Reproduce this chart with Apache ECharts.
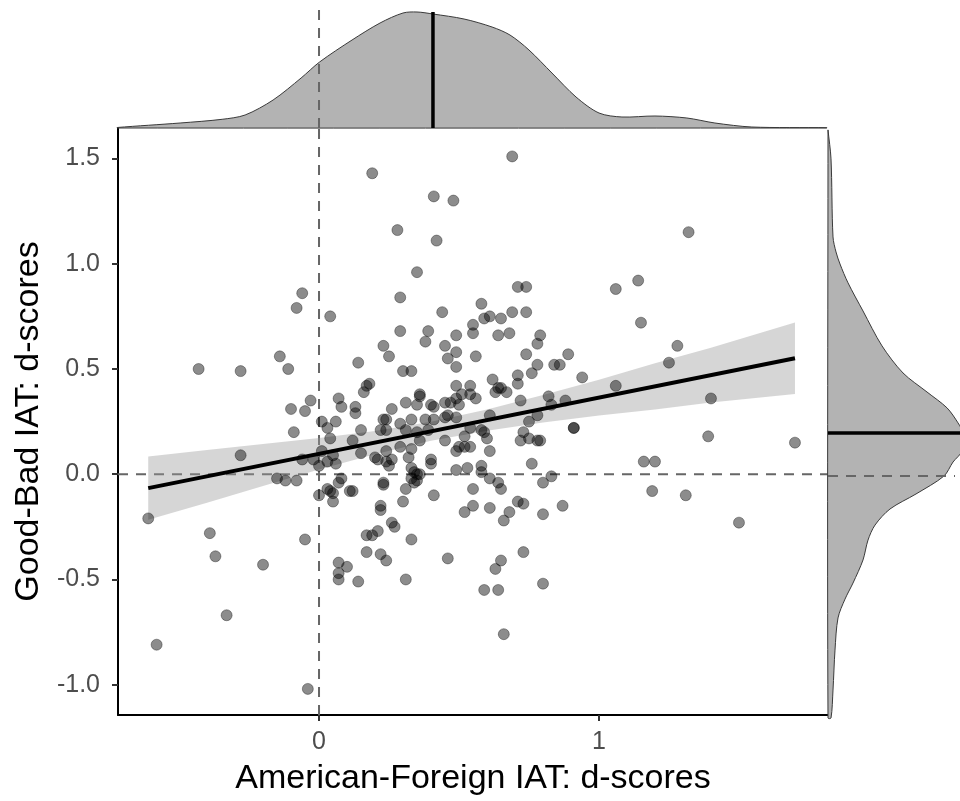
<!DOCTYPE html>
<html>
<head>
<meta charset="utf-8">
<script src="https://cdn.jsdelivr.net/npm/echarts@6/dist/echarts.min.js"></script>
<style>
html,body{margin:0;padding:0;background:#fff;}
#chart{width:960px;height:801px;}
</style>
</head>
<body>
<div id="chart"></div>
<script>
// ---------- data ----------
const xTickValues = [0, 1];
const yTickValues = [-1, -0.5, 0, 0.5, 1, 1.5];
const xTitle = 'American-Foreign IAT: d-scores';
const yTitle = 'Good-Bad IAT: d-scores';

// scatter points: American-Foreign IAT (x) vs Good-Bad IAT (y)
const xScores = [
 -0.61,-0.58,-0.43,-0.39,-0.37,-0.33,-0.28,-0.28,-0.20,-0.14,-0.11,-0.10,-0.09,-0.06,-0.08,-0.06,0.04,-0.04,-0.05,-0.15,-0.12,-0.08,-0.05,-0.03,
 0.01,0.06,0.07,0.08,0.13,0.13,0.14,0.03,0.04,0.15,0.12,0.01,0.05,-0.02,0.00,0.03,0.06,0.15,0.08,0.07,0.03,0.04,0.05,0.00,0.11,0.12,0.05,
 0.19,0.69,0.41,0.48,0.28,0.42,0.35,0.71,0.74,0.29,0.58,0.44,0.59,0.61,0.65,0.69,0.74,0.55,0.29,0.39,0.49,0.55,0.64,0.68,0.79,0.38,0.78,
 0.23,0.45,0.25,0.49,0.46,0.56,0.74,0.89,0.49,0.78,0.84,0.86,0.30,0.33,0.76,0.94,0.62,0.71,0.71,0.18,0.17,0.16,0.49,0.54,0.64,0.65,0.63,
 0.67,0.36,0.36,0.51,0.54,0.49,0.56,0.82,0.88,0.72,0.83,0.31,0.35,0.40,0.41,0.47,0.50,0.26,0.61,0.78,0.23,0.24,0.29,0.33,0.38,0.41,0.45,
 0.46,0.49,0.75,0.45,
 0.22,0.24,0.31,0.35,0.39,0.45,0.36,0.24,0.29,0.33,0.32,0.20,0.21,0.24,0.26,0.25,0.40,0.40,0.33,0.34,0.35,0.36,0.33,0.23,0.23,0.34,0.35,
 0.31,0.41,0.30,0.22,0.54,0.58,0.59,0.52,0.60,0.73,0.91,0.91,0.75,0.72,0.78,0.79,0.50,0.49,0.52,0.54,0.61,0.49,0.53,0.58,0.58,0.76,0.61,
 0.64,0.80,0.83,0.55,0.65,0.71,0.73,0.55,0.61,0.87,
 0.22,0.26,0.27,0.17,0.19,0.21,0.33,0.17,0.22,0.24,0.07,0.10,0.07,0.07,0.14,0.31,0.46,0.52,0.68,0.66,0.80,0.65,0.73,0.63,0.80,0.59,0.64,0.66,
 1.32,1.06,1.14,1.15,1.28,1.25,1.06,1.40,1.16,1.20,1.39,1.70,1.19,1.31,1.50
];
const yScores = [
 -0.21,-0.81,0.50,-0.28,-0.39,-0.67,0.49,0.09,-0.43,0.56,0.50,0.31,0.20,0.07,0.79,0.86,0.75,-1.02,-0.31,-0.02,-0.03,-0.03,0.30,0.35,
 0.25,0.25,0.36,0.32,0.32,0.29,0.53,0.22,0.17,0.21,0.16,0.11,0.09,0.07,0.04,0.06,0.05,0.10,-0.02,-0.04,-0.07,-0.08,-0.09,-0.10,-0.08,-0.08,-0.13,
 1.43,1.51,1.32,1.30,1.16,1.11,0.96,0.89,0.89,0.84,0.81,0.77,0.74,0.75,0.74,0.77,0.77,0.71,0.68,0.68,0.66,0.67,0.66,0.67,0.66,0.63,0.62,
 0.61,0.61,0.56,0.58,0.55,0.56,0.57,0.57,0.51,0.52,0.52,0.52,0.49,0.49,0.48,0.46,0.45,0.47,0.43,0.43,0.42,0.39,0.42,0.42,0.41,0.41,0.39,
 0.39,0.38,0.37,0.38,0.38,0.36,0.36,0.37,0.35,0.35,0.33,0.34,0.33,0.33,0.32,0.34,0.33,0.31,0.28,0.28,0.26,0.26,0.24,0.26,0.26,0.26,0.27,
 0.28,0.27,0.25,0.34,
 0.21,0.21,0.21,0.20,0.21,0.16,0.16,0.11,0.13,0.12,0.08,0.08,0.07,0.06,0.07,0.04,0.07,0.05,0.03,0.01,0.00,0.00,-0.02,-0.04,-0.05,-0.04,-0.03,
 -0.07,-0.10,-0.13,-0.15,0.22,0.21,0.20,0.18,0.17,0.20,0.22,0.22,0.17,0.16,0.16,0.16,0.13,0.11,0.13,0.13,0.11,0.02,0.03,0.04,0.01,0.05,-0.02,
 -0.04,-0.04,-0.01,-0.07,-0.07,-0.13,-0.14,-0.15,-0.16,-0.15,
 -0.17,-0.23,-0.25,-0.29,-0.29,-0.27,-0.31,-0.37,-0.38,-0.41,-0.42,-0.44,-0.47,-0.50,-0.51,-0.50,-0.40,-0.18,-0.18,-0.22,-0.19,-0.41,-0.37,-0.45,-0.52,-0.55,-0.55,-0.76,
 1.15,0.88,0.92,0.72,0.61,0.53,0.42,0.36,0.06,0.06,0.18,0.15,-0.08,-0.10,-0.23
];

// fitted regression line (end points) and its confidence band
const fitX = [-0.61, 1.70];
const fitY = [-0.066, 0.551];
const bandX     = [-0.61, -0.40, -0.20, 0.00, 0.20, 0.40, 0.60, 0.80, 1.00, 1.20, 1.40, 1.70];
const bandUpper = [0.084, 0.115, 0.144, 0.172, 0.205, 0.249, 0.307, 0.376, 0.449, 0.527, 0.601, 0.721];
const bandLower = [-0.216,-0.135,-0.056, 0.022, 0.095, 0.159, 0.207, 0.246, 0.279, 0.307, 0.341, 0.381];

// marginal density of x (top)
const topDensX = [-0.721,-0.496,-0.346,-0.264,-0.164,-0.064,0.002,0.118,0.218,0.300,0.350,0.407,0.518,0.618,0.682,0.750,0.832,0.918,1.000,1.082,1.200,1.314,1.414,1.546,1.814];
const topDensY = [0.005,0.05,0.087,0.13,0.28,0.50,0.66,0.88,1.05,1.15,1.16,1.14,1.09,1.01,0.93,0.78,0.55,0.31,0.15,0.11,0.12,0.10,0.05,0.01,0.003];
const xMean = 0.407;
const xMeanDens = 1.16;

// marginal density of y (right)
const rightDensY = [1.636,1.499,1.130,1.059,1.002,0.913,0.780,0.615,0.487,0.397,0.322,0.251,0.203,0.118,0.066,0.000,-0.085,-0.156,-0.232,-0.303,-0.397,-0.506,-0.582,-0.671,-0.823,-1.012,-1.144];
const rightDensX = [0.0,0.03,0.05,0.08,0.12,0.20,0.35,0.54,0.75,0.99,1.19,1.30,1.35,1.34,1.25,1.16,0.88,0.62,0.47,0.40,0.35,0.25,0.17,0.10,0.07,0.05,0.03];
const yMean = 0.203;

// ---------- layout constants ----------
const XMIN = -0.718, XMAX = 1.818;
const YMIN = -1.144, YMAX = 1.645;
const TOPMAX = 1.28;   // top marginal value range
const RIGHTMAX = 1.32; // right marginal value range

const FONT = '"Liberation Sans", Arial, Helvetica, sans-serif';
const chart = echarts.init(document.getElementById('chart'), null, {renderer: 'canvas'});

const points = xScores.map((x, i) => [x, yScores[i]]);

function densityPolygon(xs, ys, horizontal) {
  return function (params, api) {
    const pts = [];
    if (horizontal) {
      pts.push(api.coord([xs[0], 0]));
      xs.forEach((x, i) => pts.push(api.coord([x, ys[i]])));
      pts.push(api.coord([xs[xs.length - 1], 0]));
    } else {
      pts.push(api.coord([0, ys[0]]));
      ys.forEach((y, i) => pts.push(api.coord([xs[i], y])));
      pts.push(api.coord([0, ys[ys.length - 1]]));
    }
    return {
      type: 'polygon',
      shape: {points: pts, smooth: 0.3},
      style: {fill: '#b3b3b3', stroke: '#3a3a3a', lineWidth: 1}
    };
  };
}

const dashStyle = {color: '#666666', width: 2, type: [10, 8]};

const option = {
  animation: false,
  backgroundColor: '#ffffff',
  grid: [
    {left: 118, top: 128, width: 710, height: 590},
    {left: 118, top: 0, width: 710, height: 128},
    {left: 828, top: 128, width: 132, height: 590}
  ],
  xAxis: [
    {
      type: 'value', gridIndex: 0, min: XMIN, max: XMAX,
      name: xTitle, nameLocation: 'middle', nameGap: 47,
      nameTextStyle: {fontFamily: FONT, fontSize: 34, color: '#000'},
      axisLine: {show: true, onZero: false, lineStyle: {color: '#000', width: 2}},
      axisTick: {show: true, length: 6, customValues: xTickValues, lineStyle: {color: '#333', width: 2}},
      axisLabel: {customValues: xTickValues, margin: 15, fontFamily: FONT, fontSize: 25, color: '#4d4d4d',
                  formatter: v => String(v)},
      splitLine: {show: false}
    },
    {type: 'value', gridIndex: 1, min: XMIN, max: XMAX, show: false, splitLine: {show: false}},
    {type: 'value', gridIndex: 2, min: 0, max: RIGHTMAX, show: false, splitLine: {show: false}}
  ],
  yAxis: [
    {
      type: 'value', gridIndex: 0, min: YMIN, max: YMAX,
      name: yTitle, nameLocation: 'middle', nameGap: 70,
      nameTextStyle: {fontFamily: FONT, fontSize: 34, color: '#000'},
      axisLine: {show: true, onZero: false, lineStyle: {color: '#000', width: 2}},
      axisTick: {show: true, length: 6, customValues: yTickValues, lineStyle: {color: '#333', width: 2}},
      axisLabel: {customValues: yTickValues, margin: 18, fontFamily: FONT, fontSize: 25, color: '#4d4d4d',
                  formatter: v => v.toFixed(1)},
      splitLine: {show: false}
    },
    {type: 'value', gridIndex: 1, min: 0, max: TOPMAX, show: false, splitLine: {show: false}},
    {type: 'value', gridIndex: 2, min: YMIN, max: YMAX, show: false, splitLine: {show: false}}
  ],
  series: [
    // reference dashed lines in main panel
    {type: 'line', xAxisIndex: 0, yAxisIndex: 0, data: [[0, YMIN], [0, YMAX]], symbol: 'none',
     lineStyle: dashStyle, silent: true, z: 1},
    {type: 'line', xAxisIndex: 0, yAxisIndex: 0, data: [[XMIN, 0], [XMAX, 0]], symbol: 'none',
     lineStyle: dashStyle, silent: true, z: 1},
    // confidence band
    {type: 'custom', xAxisIndex: 0, yAxisIndex: 0, data: [0], silent: true, z: 2,
     renderItem: function (params, api) {
       const pts = [];
       bandX.forEach((x, i) => pts.push(api.coord([x, bandUpper[i]])));
       for (let i = bandX.length - 1; i >= 0; i--) pts.push(api.coord([bandX[i], bandLower[i]]));
       return {type: 'polygon', shape: {points: pts}, style: {fill: 'rgba(153,153,153,0.4)'}};
     }},
    // scatter
    {type: 'scatter', xAxisIndex: 0, yAxisIndex: 0, data: points, symbol: 'circle', symbolSize: 11,
     itemStyle: {color: 'rgba(0,0,0,0.45)', borderColor: 'rgba(0,0,0,0.35)', borderWidth: 1, opacity: 1},
     silent: true, z: 3},
    // regression line
    {type: 'line', xAxisIndex: 0, yAxisIndex: 0, data: fitX.map((x, i) => [x, fitY[i]]), symbol: 'none',
     lineStyle: {color: '#000', width: 4}, silent: true, z: 4},
    // top density
    {type: 'custom', xAxisIndex: 1, yAxisIndex: 1, data: [0], silent: true, z: 2,
     renderItem: densityPolygon(topDensX, topDensY, true)},
    {type: 'line', xAxisIndex: 1, yAxisIndex: 1, data: [[0, 0], [0, 1.2]], symbol: 'none',
     lineStyle: dashStyle, silent: true, z: 3},
    {type: 'line', xAxisIndex: 1, yAxisIndex: 1, data: [[xMean, 0], [xMean, xMeanDens]], symbol: 'none',
     lineStyle: {color: '#000', width: 3.5}, silent: true, z: 4},
    // right density
    {type: 'custom', xAxisIndex: 2, yAxisIndex: 2, data: [0], silent: true, z: 2,
     renderItem: densityPolygon(rightDensX, rightDensY, false)},
    {type: 'line', xAxisIndex: 2, yAxisIndex: 2, data: [[0, 0], [1.27, 0]], symbol: 'none',
     lineStyle: dashStyle, silent: true, z: 3},
    {type: 'line', xAxisIndex: 2, yAxisIndex: 2, data: [[0, yMean], [1.4, yMean]], symbol: 'none',
     lineStyle: {color: '#000', width: 3.5}, silent: true, z: 4}
  ]
};
chart.setOption(option);
</script>
</body>
</html>
